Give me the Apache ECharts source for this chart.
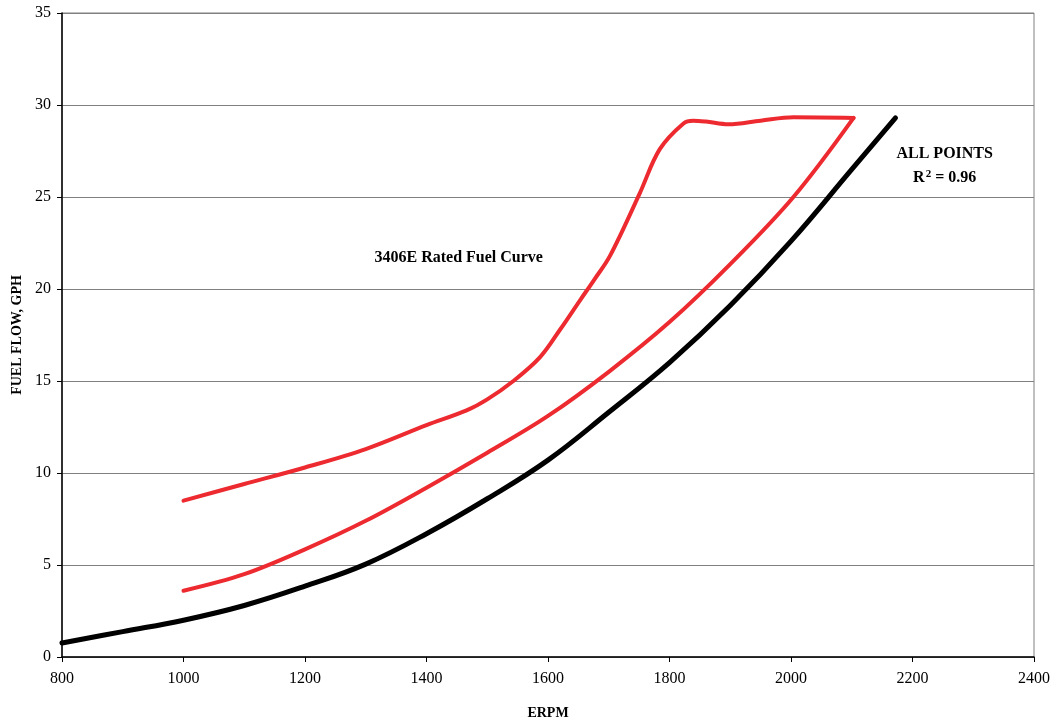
<!DOCTYPE html>
<html>
<head>
<meta charset="utf-8">
<script src="https://cdn.jsdelivr.net/npm/echarts@6/dist/echarts.min.js"></script>
<style>
  html, body { margin: 0; padding: 0; background: #fff; }
  #chart { width: 1058px; height: 723px; }
</style>
</head>
<body>
<div id="chart"></div>
<script>
// Engine speed (rpm) and fuel flow (gal/h) samples along each curve
const ratedRpm  = [1000, 1100, 1200, 1300, 1400, 1466, 1500, 1543, 1587, 1620, 1653, 1676, 1702, 1751, 1784, 1823, 1839, 1860, 1897, 1950, 2004, 2103];
const ratedFuel = [8.5, 9.4, 10.3, 11.3, 12.6, 13.4, 14.0, 15.0, 16.3, 17.8, 19.4, 20.5, 21.8, 25.2, 27.6, 29.0, 29.15, 29.1, 28.95, 29.15, 29.33, 29.3];

const lowerRpm  = [1000, 1100, 1200, 1300, 1400, 1500, 1600, 1700, 1800, 1900, 2004, 2103];
const lowerFuel = [3.6, 4.5, 5.85, 7.4, 9.2, 11.1, 13.1, 15.5, 18.2, 21.35, 25.0, 29.3];

const fitRpm  = [800, 900, 1000, 1100, 1200, 1300, 1400, 1500, 1600, 1700, 1800, 1900, 2000, 2100, 2172];
const fitFuel = [0.76, 1.38, 2.0, 2.8, 3.85, 5.05, 6.7, 8.6, 10.7, 13.3, 16.0, 19.1, 22.6, 26.5, 29.3];

// Axis ranges and tick steps
const xTicks = { min: 800, max: 2400, step: 200 };
const yTicks = { min: 0, max: 35, step: 5 };

// Text annotations placed in data coordinates
const noteRpm  = [1453, 2253, 2253];
const noteFuel = [21.7, 27.35, 26.05];
const noteText = ['{b|3406E Rated Fuel Curve}', '{r|ALL POINTS}', '{r|R}{sup|2}{r| = 0.96}'];

const pair = (xs, ys) => xs.map((x, i) => [x, ys[i]]);

const serif = '"Liberation Serif", "Times New Roman", serif';
const red = '#ed2a2f';

const chart = echarts.init(document.getElementById('chart'), null, { renderer: 'canvas' });

chart.setOption({
  animation: false,
  backgroundColor: '#fff',
  grid: {
    left: 62, top: 13, right: 24, bottom: 66,
    outerBoundsMode: 'none',
    show: true, borderColor: '#808080', borderWidth: 1
  },
  xAxis: {
    type: 'value',
    min: xTicks.min, max: xTicks.max, interval: xTicks.step,
    name: 'ERPM', nameLocation: 'middle', nameGap: 49,
    nameTextStyle: { fontFamily: serif, fontWeight: 'bold', fontSize: 14, color: '#000' },
    axisLine: { show: true, lineStyle: { color: '#000', width: 1.5 } },
    axisTick: { show: true, inside: false, length: 5, lineStyle: { color: '#000', width: 1 } },
    axisLabel: { fontFamily: serif, fontSize: 16, color: '#000', margin: 14, formatter: v => String(v) },
    splitLine: { show: false }
  },
  yAxis: {
    type: 'value',
    min: yTicks.min, max: yTicks.max, interval: yTicks.step,
    name: 'FUEL FLOW, GPH', nameLocation: 'middle', nameGap: 37, nameRotate: 90,
    nameTextStyle: { fontFamily: serif, fontWeight: 'bold', fontSize: 14, color: '#000' },
    axisLine: { show: true, lineStyle: { color: '#000', width: 1.5 } },
    axisTick: { show: true, inside: false, length: 5, lineStyle: { color: '#000', width: 1 } },
    axisLabel: { fontFamily: serif, fontSize: 16, color: '#000', margin: 11, formatter: v => String(v) },
    splitLine: { show: true, lineStyle: { color: '#808080', width: 1 } }
  },
  series: [
    {
      name: 'Rated fuel curve',
      type: 'line',
      data: pair(ratedRpm, ratedFuel),
      smooth: 0.35,
      showSymbol: false,
      lineStyle: { color: red, width: 4, cap: 'round', join: 'round' },
      z: 3
    },
    {
      name: 'Lower rated curve',
      type: 'line',
      data: pair(lowerRpm, lowerFuel),
      smooth: 0.35,
      showSymbol: false,
      lineStyle: { color: red, width: 4, cap: 'round', join: 'round' },
      z: 3
    },
    {
      name: 'All points fit',
      type: 'line',
      data: pair(fitRpm, fitFuel),
      smooth: 0.4,
      showSymbol: false,
      lineStyle: { color: '#000', width: 5, cap: 'round' },
      z: 4
    }
  ]
});

// Place the text notes at their data positions
const richStyles = {
  b: { fontFamily: serif, fontWeight: 'bold', fontSize: 16, fill: '#000' },
  r: { fontFamily: serif, fontWeight: 'bold', fontSize: 16, fill: '#000' },
  sup: { fontFamily: serif, fontWeight: 'bold', fontSize: 11, fill: '#000', verticalAlign: 'top', padding: [0, 0, 8, 1] }
};
chart.setOption({
  graphic: noteRpm.map((x, i) => {
    const [px, py] = chart.convertToPixel({ gridIndex: 0 }, [x, noteFuel[i]]);
    return {
      type: 'text',
      x: px, y: py,
      silent: true,
      z: 10,
      style: {
        text: noteText[i],
        rich: richStyles,
        fill: '#000',
        align: 'center',
        verticalAlign: 'middle'
      }
    };
  })
});
</script>
</body>
</html>
